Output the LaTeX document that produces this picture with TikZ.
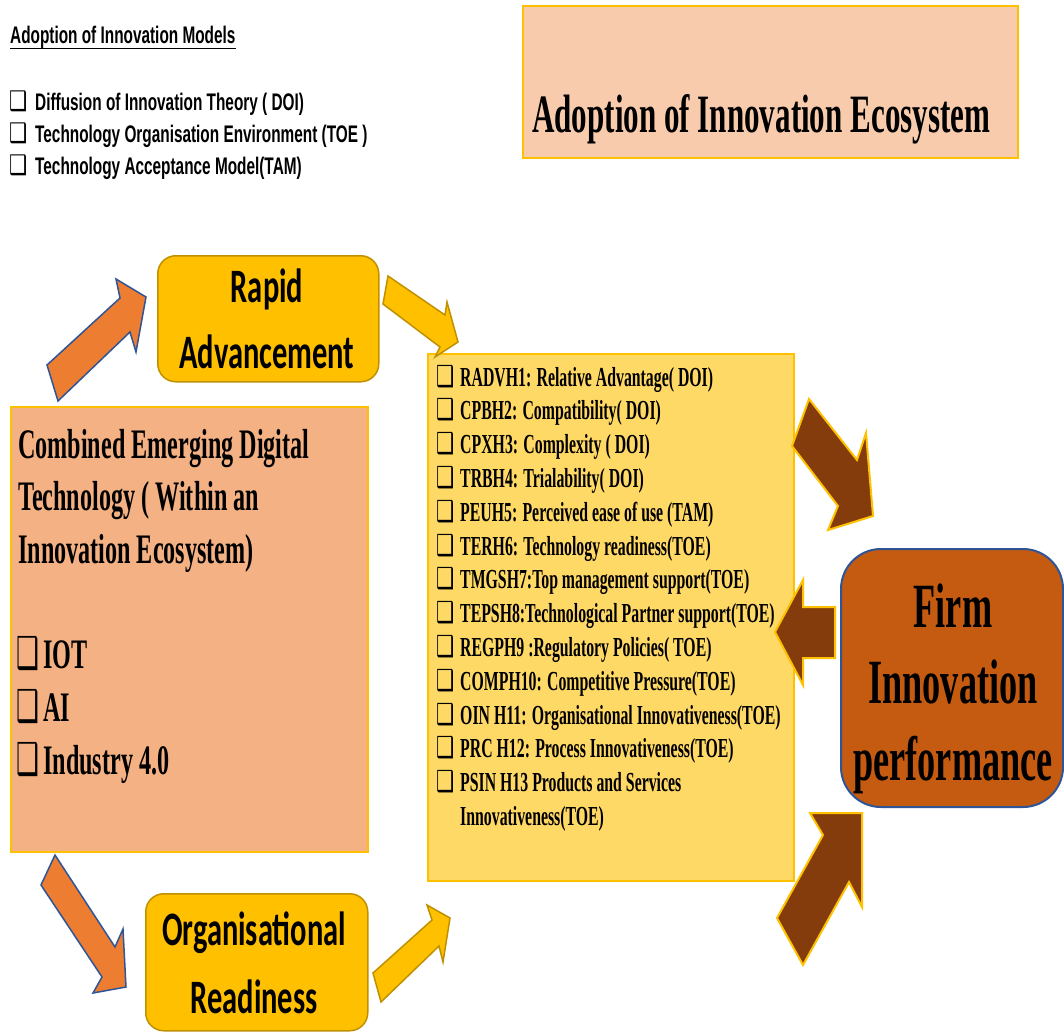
\documentclass[tikz,border=0pt]{standalone}
\usepackage{fontspec}
\usepackage{graphicx}
\newfontfamily\serifc[FakeStretch=0.575]{Liberation Serif}
\newfontfamily\sansc[FakeStretch=0.64]{Liberation Sans}
\newfontfamily\calc[FakeStretch=0.635]{Carlito}
\newfontfamily\boxfont{DejaVu Sans}
\newcommand\sqbul[2]{\scalebox{#2}[1]{\boxfont\fontsize{#1}{#1}\selectfont ❑}}
\definecolor{peach}{HTML}{F8CBAD}
\definecolor{salmon}{HTML}{F4B183}
\definecolor{gold}{HTML}{FFC000}
\definecolor{darkgold}{HTML}{BF9000}
\definecolor{lightgold}{HTML}{FFD966}
\definecolor{rust}{HTML}{C55A11}
\definecolor{navy}{HTML}{2F5597}
\definecolor{orangeA}{HTML}{ED7D31}
\definecolor{brownA}{HTML}{843C0C}
\tikzset{
  plainbox/.style={draw=gold, line width=2pt, anchor=north west, inner sep=0pt},
  roundbox/.style={draw=darkgold, fill=gold, line width=1.5pt, rounded corners=18pt, anchor=north west, inner sep=0pt},
  txt/.style={inner sep=0pt, anchor=base west},
  ctxt/.style={inner sep=0pt, anchor=base},
  orangearrow/.style={fill=orangeA, draw=navy, line width=1.5pt, line join=miter},
  yellowarrow/.style={fill=gold, draw=darkgold, line width=1.5pt, line join=miter},
  brownarrow/.style={fill=brownA, draw=gold, line width=2pt, line join=miter},
  hsans/.style={font=\sansc\bfseries\fontsize{24}{28}\selectfont},
  hserif/.style={font=\serifc\bfseries\fontsize{54}{60}\selectfont},
  lserif/.style={font=\serifc\bfseries\fontsize{42}{48}\selectfont},
  iserif/.style={font=\serifc\bfseries\fontsize{27.5}{32}\selectfont},
  fserif/.style={font=\serifc\bfseries\fontsize{63}{70}\selectfont},
  cal/.style={font=\calc\bfseries\fontsize{48}{54}\selectfont},
}
\begin{document}
\begin{tikzpicture}[x=1pt,y=-1pt]
\useasboundingbox (0,0) rectangle (1064,1035);

% ---------- top-left legend ----------
\node[txt, hsans] (models) at (10,44) {Adoption of Innovation Models};
\draw[line width=1.6pt] ([yshift=-4.5pt]models.base west) -- ([yshift=-4.5pt]models.base east);
\foreach \t [count=\i] in {Diffusion of Innovation Theory ( DOI),Technology Organisation Environment (TOE ),Technology Acceptance Model(TAM)}{
  \node[txt] (mb\i) at (9,111+32*\i-32) {\sqbul{27}{0.75}};
  \node[txt, hsans] (mt\i) at (35,111+32*\i-32) {\t};
}

% ---------- title box ----------
\node[plainbox, fill=peach, minimum width=495pt, minimum height=152pt] (titlebox) at (522,5) {};
\node[txt, hserif] (title) at (532,133) {Adoption of Innovation Ecosystem};

% ---------- left box ----------
\node[plainbox, fill=salmon, minimum width=357pt, minimum height=445pt] (leftbox) at (10,406) {};
\node[txt, lserif] (l1) at (18,458) {Combined Emerging Digital};
\node[txt, lserif] (l2) at (18,510) {Technology ( Within an};
\node[txt, lserif] (l3) at (18,563) {Innovation Ecosystem)};
\foreach \t [count=\i] in {IOT,AI,Industry 4.0}{
  \node[txt] (lb\i) at (16,668+53*\i-53) {\sqbul{44}{0.58}};
  \node[txt, lserif] (lt\i) at (43,668+53*\i-53) {\t};
}

% ---------- rapid / organisational boxes ----------
\node[roundbox, minimum width=221pt, minimum height=126pt] (rapid) at (157,255) {};
\node[ctxt, cal] (rapid1) at (267,302) {Rapid};
\node[ctxt, cal] (rapid2) at (267,368) {Advancement};
\node[roundbox, minimum width=222pt, minimum height=137pt] (org) at (145,893) {};
\node[ctxt, cal] (org1) at (254,945) {Organisational};
\node[ctxt, cal] (org2) at (254,1013) {Readiness};

% ---------- list box ----------
\node[plainbox, fill=lightgold, minimum width=366pt, minimum height=527pt] (listbox) at (427,353) {};
\foreach \t [count=\i] in {RADVH1: Relative Advantage( DOI),CPBH2: Compatibility( DOI),CPXH3: Complexity ( DOI),TRBH4: Trialability( DOI),PEUH5: Perceived ease of use (TAM),TERH6: Technology readiness(TOE),TMGSH7:Top management support(TOE),TEPSH8:Technological Partner support(TOE),REGPH9 :Regulatory Policies( TOE),COMPH10: Competitive Pressure(TOE),OIN H11: Organisational Innovativeness(TOE),PRC H12: Process Innovativeness(TOE),PSIN H13 Products and Services}{
  \node[txt] (ib\i) at (436,386+33.8*\i-33.8) {\sqbul{29}{0.7}};
  \node[txt, iserif] (it\i) at (460,386+33.8*\i-33.8) {\t};
}
\node[txt, iserif] (it14) at (460,825) {Innovativeness(TOE)};

% ---------- firm box ----------
\node[draw=navy, fill=rust, line width=2pt, rounded corners=40pt, anchor=north west, inner sep=0pt, minimum width=222pt, minimum height=258pt] (firm) at (840,548) {};
\node[ctxt, fserif] (firm1) at (953,627) {Firm};
\node[ctxt, fserif] (firm2) at (953,703) {Innovation};
\node[ctxt, fserif] (firm3) at (953,780) {performance};

% ---------- block arrows ----------
\draw[orangearrow] (47,365) -- (120,298) -- (116,279) -- (146,297) -- (136,352) -- (130,332) -- (58,401) -- cycle;
\draw[orangearrow] (55,855) -- (115,947) -- (123,929) -- (126,987) -- (93,993) -- (102,977) -- (41,885) -- cycle;
\draw[yellowarrow] (388,276) -- (445,315) -- (447,302) -- (458,342) -- (435,357) -- (440,347) -- (383,304) -- cycle;
\draw[yellowarrow] (373,973) -- (432,920) -- (427,905) -- (450,918) -- (443,962) -- (439,946) -- (381,1002) -- cycle;
\draw[brownarrow] (809,399) -- (857,460) -- (866,433) -- (873,516) -- (828,530) -- (838,506) -- (792,446) -- cycle;
\draw[brownarrow] (775,632) -- (803,580) -- (803,607) -- (835,607) -- (835,658) -- (803,658) -- (803,685) -- cycle;
\draw[brownarrow] (810,813) -- (862,813) -- (862,907) -- (849,882) -- (803,965) -- (777,918) -- (823,835) -- cycle;
\end{tikzpicture}
\end{document}
